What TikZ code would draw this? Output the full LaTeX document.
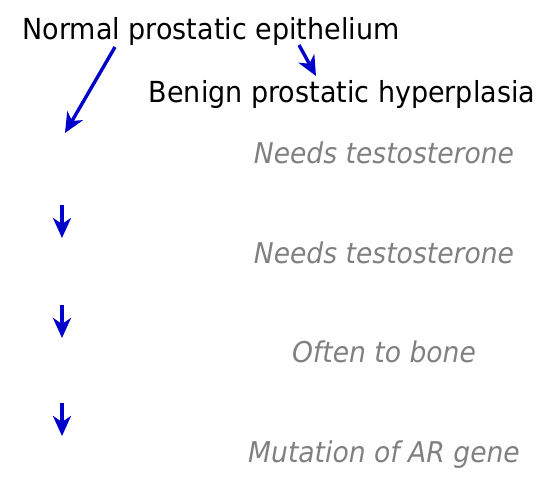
\documentclass[tikz,border=0pt]{standalone}
\usepackage{fontspec}
\setmainfont{DejaVu Sans}[FakeStretch=0.93]
\usepackage{xcolor}
\usetikzlibrary{arrows.meta}
\definecolor{stepblue}{HTML}{0000CC}
\definecolor{notegray}{HTML}{808080}

\begin{document}
\begin{tikzpicture}[x=0.5pt, y=-0.5pt, >={Stealth[length=10pt, width=9pt, inset=3pt]},
                    every node/.style={inner sep=0pt, font=\fontsize{14.5pt}{17pt}\selectfont},
                    note/.style={notegray, font=\fontsize{14.3pt}{17pt}\selectfont\itshape},
                    flow/.style={stepblue, line width=1.7pt, ->}]

  \useasboundingbox (0,0) rectangle (556,488);

  %% Ausgangs- und Nebenstadium
  \node[anchor=base] (normal) at (211,39) {Normal prostatic epithelium};
  \node[anchor=base] (bph) at (342,102) {Benign prostatic hyperplasia};

  %% Anmerkungen rechts
  \node[note, anchor=base] (note1) at (384,163) {Needs testosterone};
  \node[note, anchor=base] (note2) at (384,263) {Needs testosterone};
  \node[note, anchor=base] (note3) at (384,362) {Often to bone};
  \node[note, anchor=base] (note4) at (384,462) {Mutation of AR gene};

  %% Pfeilenden
  \coordinate (s1) at (115,47);
  \coordinate (e1) at (65,133);
  \coordinate (s2) at (299,45);
  \coordinate (e2) at (316,76);
  \foreach \i/\y in {a/205, b/305, c/403} {
    \coordinate (top\i) at (62,\y);
    \coordinate (tip\i) at (62,\y+33);
  }

  %% Pfeile
  \draw[flow] (s1) -- (e1);
  \draw[flow] (s2) -- (e2);
  \foreach \i in {a,b,c}
    \draw[flow] (top\i) -- (tip\i);

\end{tikzpicture}
\end{document}
